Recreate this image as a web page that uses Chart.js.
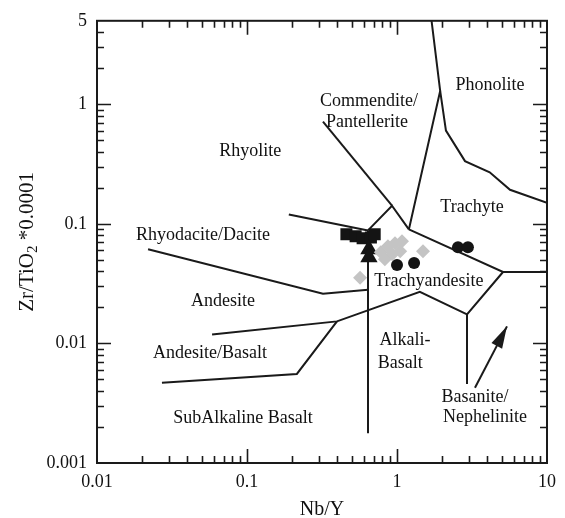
<!DOCTYPE html>
<html>
<head>
<meta charset="utf-8">
<script src="https://cdn.jsdelivr.net/npm/chart.js@4.4.1/dist/chart.umd.min.js"></script>
<style>
  html, body { margin: 0; padding: 0; background: #fff; }
  #wrap { width: 565px; height: 518px; }
</style>
</head>
<body>
<div id="wrap"><canvas id="chartWF"></canvas></div>
<script>
// ================= DATA =================
// axis ticks
const xTicks = [0.01, 0.1, 1, 10];
const xTickLabels = ["0.01", "0.1", "1", "10"];
const yTicks = [0.001, 0.01, 0.1, 1, 5];
const yTickLabels = ["0.001", "0.01", "0.1", "1", "5"];

// sample points [Nb/Y, Zr/TiO2*0.0001]
const squares = [[0.46, 0.082], [0.53, 0.079], [0.59, 0.076], [0.67, 0.077], [0.71, 0.082]];
const triangles = [[0.65, 0.0614], [0.65, 0.0527]];
const diamonds = [[0.78, 0.058], [0.87, 0.065], [0.97, 0.0689], [1.08, 0.0715], [0.93, 0.0558],
                  [1.05, 0.0591], [0.83, 0.0507], [1.49, 0.0591], [0.567, 0.0354]];
const circles = [[1.0, 0.0453], [1.30, 0.047], [2.55, 0.0638], [2.97, 0.0638]];

// field boundaries
const rhyodaciteAndesite = [[0.0219, 0.0614], [0.321, 0.0261], [0.641, 0.0281]];
const rhyoliteRhyodacite = [[0.19, 0.1197], [0.641, 0.0882]];
const commenditeRhyolite = [[0.321, 0.718], [0.926, 0.142]];
const rhyoliteTrachyand = [[0.641, 0.0882], [0.926, 0.142], [1.20, 0.0899]];
const phonoliteCommendite = [[1.70, 5], [1.94, 1.297], [1.20, 0.0899]];
const phonoliteTrachyte = [[1.94, 1.297], [2.12, 0.604], [2.84, 0.335], [4.15, 0.27], [5.67, 0.193], [10, 0.15]];
const trachyteTrachyand = [[1.20, 0.0899], [5.09, 0.0396], [10, 0.0396]];
const trachyandBasanite = [[5.09, 0.0396], [2.93, 0.0175], [2.93, 0.00459]];
const trachyandBasalt = [[2.93, 0.0175], [1.42, 0.027], [0.398, 0.0153], [0.0585, 0.0119]];
const subalkalineLine = [[0.0271, 0.00469], [0.215, 0.00556], [0.398, 0.0153]];
const alkaliSubalkaline = [[0.641, 0.0882], [0.641, 0.00177]];
const basaniteArrow = [[3.31, 0.00426], [5.41, 0.0139]];

// field names and where they sit (data coords)
const fieldNames = ["Commendite/", "Pantellerite", "Phonolite", "Rhyolite", "Trachyte",
  "Rhyodacite/Dacite", "Andesite", "Trachyandesite", "Alkali-", "Basalt",
  "Andesite/Basalt", "SubAlkaline Basalt", "Basanite/", "Nephelinite"];
const fieldX = [0.65, 0.631, 4.17, 0.105, 3.16, 0.0509, 0.0692, 1.63, 1.13, 1.05, 0.0566, 0.094, 3.31, 3.86];
const fieldY = [1.07, 0.705, 1.45, 0.406, 0.137, 0.0802, 0.0224, 0.0334, 0.0106, 0.00686, 0.0083, 0.00236, 0.00352, 0.0024];

const SERIF = "'Liberation Serif', 'Times New Roman', serif";

function toXY(arr) {
  return arr.map(p => ({ x: p[0], y: p[1] }));
}

function boundary(arr) {
  return {
    type: 'line', data: toXY(arr), borderColor: '#1a1a1a', borderWidth: 2,
    pointRadius: 0, fill: false, tension: 0, order: 10
  };
}

function markers(arr, style, radius, color) {
  return {
    type: 'scatter', data: toXY(arr), pointStyle: style, pointRadius: radius,
    backgroundColor: color, borderWidth: 0, order: 1
  };
}

// ================= DECORATION PLUGIN =================
// frame with inward ticks, field names, arrow head, axis titles
const decor = {
  id: 'decor',
  afterDatasetsDraw(chart) {
    const ctx = chart.ctx;
    const a = chart.chartArea;
    const xs = chart.scales.x, ys = chart.scales.y;
    ctx.save();

    // frame
    ctx.strokeStyle = '#1a1a1a';
    ctx.lineWidth = 2;
    ctx.strokeRect(a.left, a.top, a.right - a.left, a.bottom - a.top);

    // ticks
    ctx.lineWidth = 1.6;
    ctx.beginPath();
    for (let d = 0.01; d < 10; d *= 10) {
      for (let m = 1; m <= 9; m++) {
        const v = d * m;
        const len = m === 1 ? 14 : 7;
        const px = Math.round(xs.getPixelForValue(v)) + 0.5;
        if (px <= a.left + 1) continue;
        ctx.moveTo(px, a.bottom); ctx.lineTo(px, a.bottom - len);
        ctx.moveTo(px, a.top); ctx.lineTo(px, a.top + len);
      }
    }
    for (let d = 0.001; d < 5; d *= 10) {
      for (let m = 1; m <= 9; m++) {
        const v = d * m;
        if (v >= 5) break;
        const len = m === 1 ? 14 : 7;
        const py = Math.round(ys.getPixelForValue(v)) + 0.5;
        if (py >= a.bottom - 1) continue;
        ctx.moveTo(a.left, py); ctx.lineTo(a.left + len, py);
        ctx.moveTo(a.right, py); ctx.lineTo(a.right - len, py);
      }
    }
    ctx.stroke();

    // arrow head
    const t0x = xs.getPixelForValue(basaniteArrow[0][0]), t0y = ys.getPixelForValue(basaniteArrow[0][1]);
    const t1x = xs.getPixelForValue(basaniteArrow[1][0]), t1y = ys.getPixelForValue(basaniteArrow[1][1]);
    const ang = Math.atan2(t1y - t0y, t1x - t0x);
    ctx.fillStyle = '#1a1a1a';
    ctx.beginPath();
    ctx.moveTo(t1x, t1y);
    ctx.lineTo(t1x - 22 * Math.cos(ang) + 6 * Math.sin(ang), t1y - 22 * Math.sin(ang) - 6 * Math.cos(ang));
    ctx.lineTo(t1x - 22 * Math.cos(ang) - 6 * Math.sin(ang), t1y - 22 * Math.sin(ang) + 6 * Math.cos(ang));
    ctx.closePath();
    ctx.fill();

    // field names
    ctx.fillStyle = '#111';
    ctx.font = '18px ' + SERIF;
    ctx.textAlign = 'center';
    ctx.textBaseline = 'middle';
    fieldNames.forEach((name, i) => {
      ctx.fillText(name, xs.getPixelForValue(fieldX[i]), ys.getPixelForValue(fieldY[i]));
    });

    // x title
    ctx.font = '20px ' + SERIF;
    ctx.fillText('Nb/Y', (a.left + a.right) / 2, 510);

    // y title with subscript 2
    ctx.translate(27, (a.top + a.bottom) / 2);
    ctx.rotate(-Math.PI / 2);
    ctx.textAlign = 'left';
    const big = '21px ' + SERIF, small = '15px ' + SERIF;
    ctx.font = big;
    const w1 = ctx.measureText('Zr/TiO').width;
    const w3 = ctx.measureText(' *0.0001').width;
    ctx.font = small;
    const w2 = ctx.measureText('2').width;
    let x0 = -(w1 + w2 + w3) / 2;
    ctx.font = big;
    ctx.fillText('Zr/TiO', x0, 0);
    ctx.font = small;
    ctx.fillText('2', x0 + w1, 6);
    ctx.font = big;
    ctx.fillText(' *0.0001', x0 + w1 + w2, 0);

    ctx.restore();
  }
};

// ================= CHART =================
new Chart(document.getElementById('chartWF'), {
  data: {
    datasets: [
      boundary(rhyodaciteAndesite),
      boundary(rhyoliteRhyodacite),
      boundary(commenditeRhyolite),
      boundary(rhyoliteTrachyand),
      boundary(phonoliteCommendite),
      boundary(phonoliteTrachyte),
      boundary(trachyteTrachyand),
      boundary(trachyandBasanite),
      boundary(trachyandBasalt),
      boundary(subalkalineLine),
      boundary(alkaliSubalkaline),
      boundary(basaniteArrow),
      markers(diamonds, 'rectRot', 7, '#c4c4c4'),
      markers(circles, 'circle', 6, '#141414'),
      markers(triangles, 'triangle', 10, '#141414'),
      markers(squares, 'rect', 8.5, '#141414')
    ]
  },
  options: {
    responsive: true,
    maintainAspectRatio: false,
    animation: false,
    layout: { padding: { top: 16, right: 18, left: 0, bottom: 0 } },
    plugins: { legend: { display: false }, tooltip: { enabled: false } },
    scales: {
      x: {
        type: 'logarithmic', position: 'bottom', min: 0.01, max: 10,
        grid: { display: false, drawTicks: false }, border: { display: false },
        afterBuildTicks: s => { s.ticks = xTicks.map(v => ({ value: v })); },
        afterFit: s => { s.height = 55; },
        ticks: {
          autoSkip: false, maxRotation: 0, padding: 8, color: '#111',
          font: { family: SERIF, size: 18 },
          callback: v => { const i = xTicks.indexOf(v); return i >= 0 ? xTickLabels[i] : ''; }
        }
      },
      y: {
        type: 'logarithmic', position: 'left', min: 0.001, max: 5,
        grid: { display: false, drawTicks: false }, border: { display: false },
        afterBuildTicks: s => { s.ticks = yTicks.map(v => ({ value: v })); },
        afterFit: s => { s.width = 97; },
        ticks: {
          autoSkip: false, padding: 10, color: '#111',
          font: { family: SERIF, size: 18 },
          callback: v => { const i = yTicks.indexOf(v); return i >= 0 ? yTickLabels[i] : ''; }
        }
      }
    }
  },
  plugins: [decor]
});
</script>
</body>
</html>
